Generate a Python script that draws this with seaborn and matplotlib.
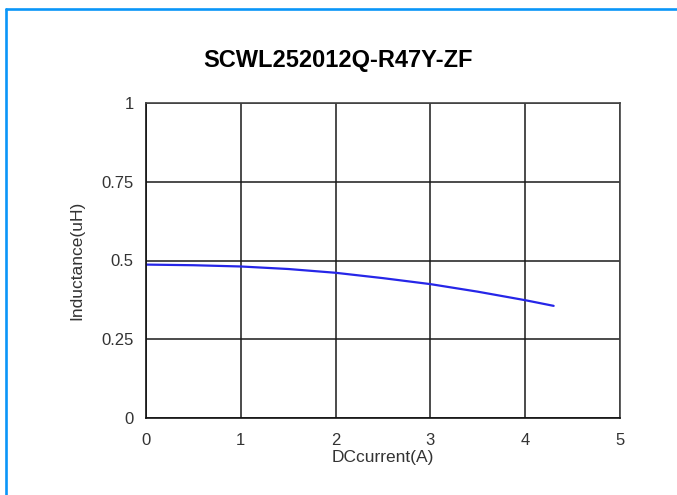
import matplotlib
matplotlib.use("Agg")
import matplotlib.pyplot as plt
import seaborn as sns
import pandas as pd
from matplotlib.lines import Line2D

# Data
current_a = [0.0, 0.5, 1.0, 1.5, 2.0, 2.5, 3.0, 3.5, 4.0, 4.3]
inductance_uh = [0.487, 0.485, 0.481, 0.473, 0.461, 0.444, 0.425, 0.401, 0.374, 0.356]
x_ticks = [0, 1, 2, 3, 4, 5]
y_ticks = [0, 0.25, 0.5, 0.75, 1]
y_tick_labels = ["0", "0.25", "0.5", "0.75", "1"]
title = "SCWL252012Q-R47Y-ZF"
x_label = "DCcurrent(A)"
y_label = "Inductance(uH)"

df = pd.DataFrame({"I": current_a, "L": inductance_uh})

sns.set_theme(style="white")
plt.rcParams["font.family"] = ["Liberation Sans", "DejaVu Sans"]

fig = plt.figure(figsize=(6.77, 4.95), dpi=100)
fig.patch.set_facecolor("white")
ax = fig.add_axes([146 / 677, 77 / 495, 474 / 677, 315 / 495])
ax.set_facecolor("white")

sns.lineplot(data=df, x="I", y="L", ax=ax, color="#2626E8", linewidth=1.6)

ax.set_xlim(0, 5)
ax.set_ylim(0, 1)
ax.set_xticks(x_ticks)
ax.set_xticklabels([str(t) for t in x_ticks])
ax.set_yticks(y_ticks)
ax.set_yticklabels(y_tick_labels)
ax.grid(True, color="#1a1a1a", linewidth=1.1)
ax.set_axisbelow(True)
for s in ax.spines.values():
    s.set_visible(True)
    s.set_color("#111111")
    s.set_linewidth(1.2)
ax.spines["top"].set_color("#444444")
ax.spines["right"].set_color("#444444")

ax.tick_params(axis="x", length=0, pad=10.5, labelsize=12, labelcolor="#333333")
ax.tick_params(axis="y", length=0, pad=9, labelsize=12, labelcolor="#333333")

ax.set_xlabel(x_label, fontsize=12.5, color="#333333", labelpad=1.5)
ax.set_ylabel(y_label, fontsize=12.5, color="#333333", labelpad=12)

fig.text(338 / 677, 1 - 60 / 495, title, ha="center", va="center",
         fontsize=17, fontweight="bold", color="black")

# Blue frame lines (top and left edges)
fig.add_artist(Line2D([6 / 677, 1.0], [1 - 9 / 495, 1 - 9 / 495],
                      transform=fig.transFigure, color="#0A96F8", linewidth=1.9))
fig.add_artist(Line2D([6 / 677, 6 / 677], [0.0, 1 - 9 / 495],
                      transform=fig.transFigure, color="#0A96F8", linewidth=1.9))

fig.savefig("out.png", dpi=100)
